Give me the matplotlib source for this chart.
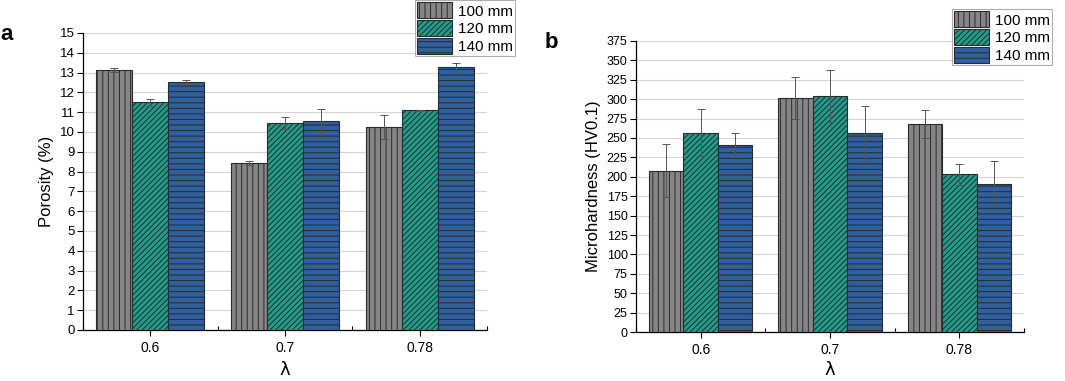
import matplotlib
matplotlib.use("Agg")
import matplotlib.pyplot as plt
import numpy as np

plt.rcParams['font.family'] = ['Liberation Sans', 'DejaVu Sans']
plt.rcParams['hatch.linewidth'] = 0.7

categories = ['0.6', '0.7', '0.78']
series_names = ['100 mm', '120 mm', '140 mm']

porosity_100 = [13.12, 8.41, 10.24]
porosity_120 = [11.49, 10.44, 11.10]
porosity_140 = [12.52, 10.58, 13.26]
porosity_err_100 = [0.10, 0.10, 0.60]
porosity_err_120 = [0.20, 0.30, 0.03]
porosity_err_140 = [0.10, 0.60, 0.21]

hard_100 = [208, 302, 268]
hard_120 = [257, 304, 203]
hard_140 = [241, 256, 191]
hard_err_100 = [34, 27, 18]
hard_err_120 = [30, 34, 14]
hard_err_140 = [16, 35, 29]

colors = ['#858585', '#209c8d', '#2f5f9c']
hatches = ['|||', '//////', '---']
edge = '#2b2b2b'

fig = plt.figure(figsize=(10.65, 3.81), dpi=100)
ax1 = fig.add_axes([0.0779, 0.1339, 0.3794, 0.7795])
ax2 = fig.add_axes([0.5972, 0.1286, 0.3643, 0.7638])

def draw(ax, vals, errs, ymax, ystep, ylabel, ytick_size):
    x = np.arange(len(categories))
    w = 0.267
    for i, (v, e) in enumerate(zip(vals, errs)):
        ax.bar(x + (i - 1) * w, v, w, color=colors[i], edgecolor=edge,
               linewidth=0.8, hatch=hatches[i], label=series_names[i], zorder=3)
        ax.errorbar(x + (i - 1) * w, v, yerr=e, fmt='none', ecolor='#555555',
                    elinewidth=0.7, capsize=3, capthick=0.7, zorder=4)
    ax.set_xlim(-0.5, 2.5)
    ax.set_ylim(0, ymax)
    ax.set_yticks(np.arange(0, ymax + ystep / 2, ystep))
    ax.set_xticks(x)
    ax.set_xticklabels(categories)
    ax.set_xticks([-0.5, 0.5, 1.5, 2.5], minor=True)
    ax.tick_params(axis='x', which='major', direction='out', length=4, width=0.8, labelsize=10, pad=4)
    ax.tick_params(axis='x', which='minor', direction='in', length=3, width=0.8)
    ax.tick_params(axis='y', direction='out', length=4, width=0.8, labelsize=ytick_size, pad=2)
    ax.spines['top'].set_visible(False)
    ax.spines['right'].set_visible(False)
    ax.spines['left'].set_linewidth(0.9)
    ax.spines['bottom'].set_linewidth(0.9)
    ax.grid(axis='y', color='#d4d4d4', linewidth=0.8, zorder=0)
    ax.set_axisbelow(True)
    ax.set_ylabel(ylabel, fontsize=12, labelpad=4)
    ax.set_xlabel('λ', fontsize=13, family=['DejaVu Sans'], va='bottom')
    pos = ax.get_position()
    yb = (2 / 381 - pos.y0) / pos.height
    ax.xaxis.set_label_coords(0.5, yb)

draw(ax1, [porosity_100, porosity_120, porosity_140],
     [porosity_err_100, porosity_err_120, porosity_err_140], 15, 1, 'Porosity (%)', 9.5)
draw(ax2, [hard_100, hard_120, hard_140],
     [hard_err_100, hard_err_120, hard_err_140], 375, 25, 'Microhardness (HV0.1)', 9)

for ax, anchor in [(ax1, (515 / 1065, 1.0)), (ax2, (1052 / 1065, 1 - 9 / 381))]:
    leg = ax.legend(loc='upper right', bbox_to_anchor=anchor, bbox_transform=fig.transFigure,
                    fontsize=11, frameon=True, fancybox=False, edgecolor='#999999',
                    handlelength=2.3, handleheight=1.25, handletextpad=0.35,
                    labelspacing=0.1, borderpad=0.15, borderaxespad=0)
    leg.get_frame().set_linewidth(0.8)

fig.text(0.0, 1 - 35 / 381, 'a', fontsize=16, fontweight='bold', va='center', ha='left')
fig.text(545 / 1065, 1 - 42 / 381, 'b', fontsize=16, fontweight='bold', va='center', ha='left')

fig.savefig('out.png', dpi=100)
